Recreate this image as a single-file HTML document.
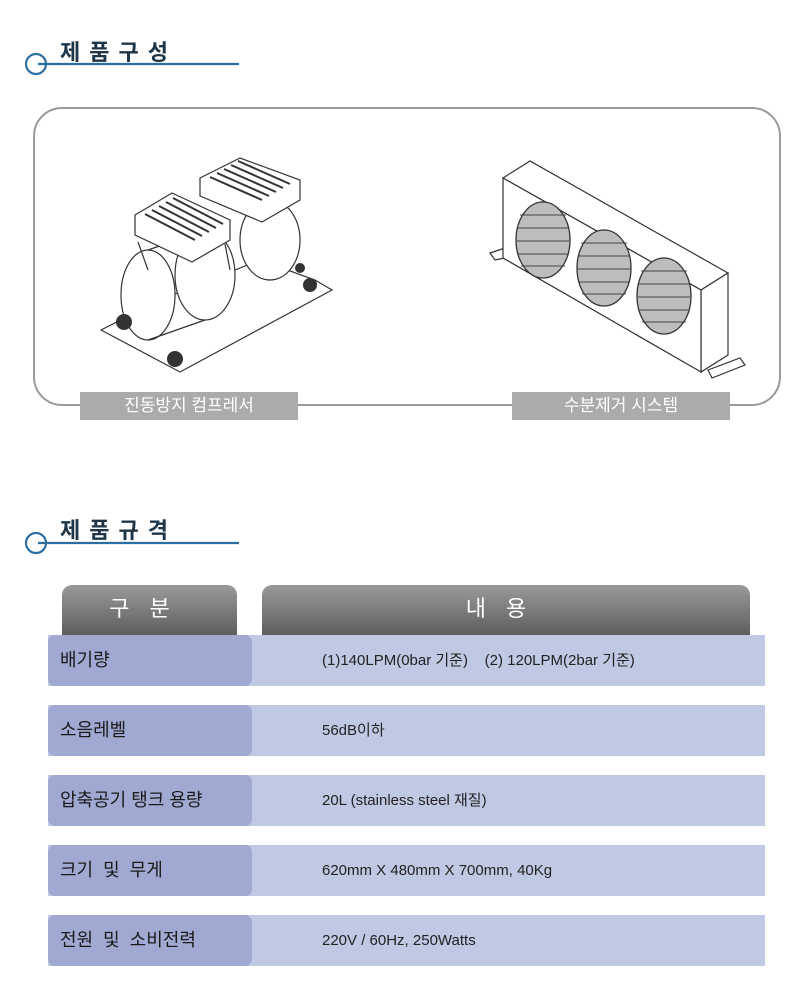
<!DOCTYPE html>
<html><head><meta charset="utf-8"><style>
body{margin:0;width:800px;height:1006px;background:#fff;position:relative;overflow:hidden;font-family:"Liberation Sans","Noto Sans CJK KR",sans-serif}
.h{position:absolute;font-weight:bold;font-size:22px;color:#1d3547;letter-spacing:9px}
.abs{position:absolute}
.tab{position:absolute;top:585px;height:50px;background:linear-gradient(#9a9a9a,#5e5e5e);border-radius:10px 10px 0 0;color:#fff;font-size:22px;text-align:center;line-height:48px;letter-spacing:20px}
.row{position:absolute;left:48px;width:717px;height:51px;background:#c0c9e3}
.lab{position:absolute;left:0;top:0;width:204px;height:51px;background:#a0a9d1;border-radius:7px;font-size:18px;color:#1a1a1a;line-height:51px;text-indent:12px}
.val{position:absolute;left:274px;top:0;line-height:51px;font-size:15px;color:#222}
.cap{position:absolute;top:392px;height:28px;background:#ababab;color:#fff;font-size:17px;text-align:center;line-height:28px}
</style></head><body>
<svg class="abs" style="left:0;top:0" width="800" height="1006">
<g stroke="#2d6ea0" stroke-width="2.2" fill="none">
<circle cx="36" cy="64" r="10"/><line x1="38" y1="64" x2="239" y2="64"/>
<circle cx="36" cy="543" r="10"/><line x1="38" y1="543" x2="239" y2="543"/>
</g>
<rect x="34" y="108" width="746" height="297" rx="28" fill="none" stroke="#9a9a9a" stroke-width="2"/>
<!-- radiator -->
<g stroke="#333" stroke-width="1.2" fill="#fff">
<path d="M490 253 L505 248 L505 258 L495 260 Z"/>
<path d="M708 370 L740 358 L745 365 L712 378 Z"/>
<polygon points="503,178 530,161 728,273 701,290"/>
<polygon points="701,290 728,273 728,355 701,372"/>
<polygon points="503,178 701,290 701,372 503,258"/>
</g>
<g stroke="#333" stroke-width="1.3" fill="#bdbdbd">
<ellipse cx="543" cy="240" rx="27" ry="38"/><ellipse cx="604" cy="268" rx="27" ry="38"/><ellipse cx="664" cy="296" rx="27" ry="38"/>
</g>
<g stroke="#444" stroke-width="1" fill="none">
<path d="M520 215 h46 M518 228 h50 M517 241 h52 M518 254 h50 M521 266 h44 M581 243 h46 M579 256 h50 M578 269 h52 M579 282 h50 M582 294 h44 M641 271 h46 M639 284 h50 M638 297 h52 M639 310 h50 M642 322 h44"/>
</g>
<!-- compressor -->
<g stroke="#333" stroke-width="1.2" fill="#fff">
<polygon points="101,330 180,372 332,290 315,280 260,260 160,300"/>
<ellipse cx="270" cy="240" rx="30" ry="40"/>
<ellipse cx="205" cy="275" rx="30" ry="45"/>
<ellipse cx="148" cy="295" rx="27" ry="45"/>
<path d="M148 250 L205 230 M148 340 L205 320" />
<polygon points="200,178 240,158 300,180 300,200 262,222 200,196"/>
<polygon points="135,215 172,193 230,220 230,240 192,262 135,235"/>
<path d="M138 242 L148 270 M225 244 L230 270"/>
</g>
<g stroke="#333" stroke-width="2" fill="none">
<path d="M145 214 L195 240 M152 210 L202 236 M159 206 L209 232 M166 202 L216 228 M173 198 L223 224"/>
<path d="M210 177 L262 200 M217 173 L269 196 M224 169 L276 192 M231 165 L283 188 M238 161 L290 184"/>
</g>
<g fill="#333"><circle cx="124" cy="322" r="8"/><circle cx="175" cy="359" r="8"/><circle cx="310" cy="285" r="7"/><circle cx="300" cy="268" r="5"/></g>
</svg>
<div class="h" style="left:60px;top:35px">제품구성</div>
<div class="h" style="left:60px;top:513px">제품규격</div>
<div class="cap" style="left:80px;width:218px">진동방지 컴프레서</div>
<div class="cap" style="left:512px;width:218px">수분제거 시스템</div>
<div class="tab" style="left:62px;width:175px">구분</div>
<div class="tab" style="left:262px;width:488px">내용</div>
<div class="row" style="top:635px"><div class="lab">배기량</div><div class="val">(1)140LPM(0bar 기준)&nbsp;&nbsp;&nbsp;&nbsp;(2) 120LPM(2bar 기준)</div></div>
<div class="row" style="top:705px"><div class="lab">소음레벨</div><div class="val">56dB이하</div></div>
<div class="row" style="top:775px"><div class="lab">압축공기 탱크 용량</div><div class="val">20L (stainless steel 재질)</div></div>
<div class="row" style="top:845px"><div class="lab">크기&nbsp; 및&nbsp; 무게</div><div class="val">620mm X 480mm X 700mm, 40Kg</div></div>
<div class="row" style="top:915px"><div class="lab">전원&nbsp; 및&nbsp; 소비전력</div><div class="val">220V / 60Hz, 250Watts</div></div>
</body></html>
